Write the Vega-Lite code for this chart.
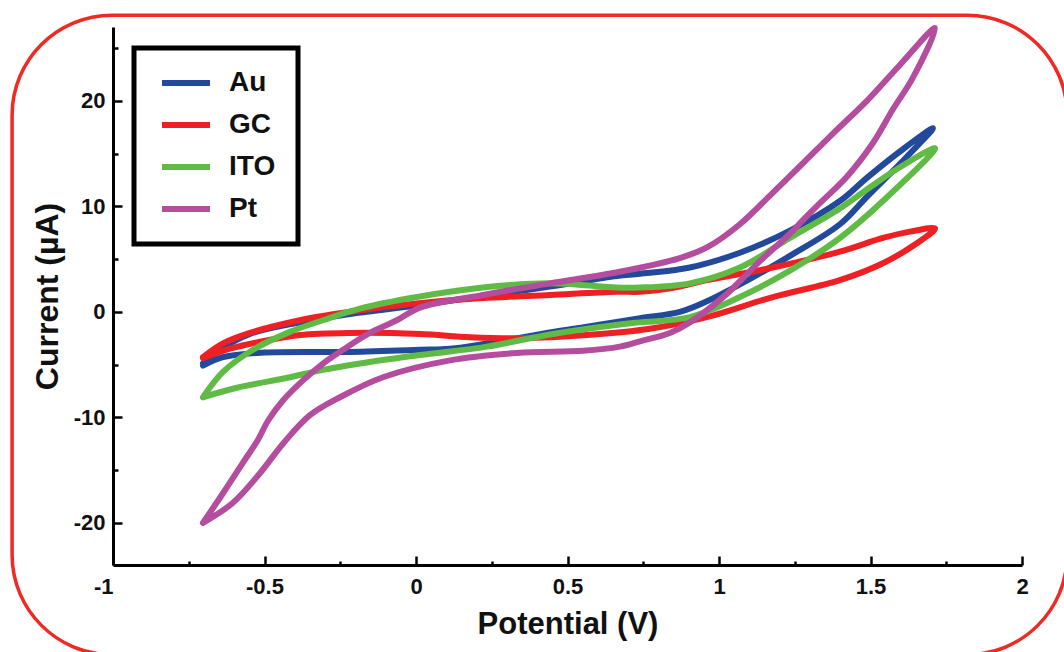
{
  "$schema": "https://vega.github.io/schema/vega-lite/v6.json",
  "width": 909,
  "height": 538,
  "autosize": {"type": "none"},
  "padding": {"left": 113, "top": 27, "right": 42, "bottom": 87},
  "background": "white",
  "config": {
    "view": {"stroke": null},
    "font": "Liberation Sans",
    "legend": {"strokeWidth": 5}
  },
  "layer": [
    {
      "data": {"values": [{}]},
      "mark": {"type": "rect", "filled": false, "stroke": "#ee2a24", "strokeWidth": 3.5, "cornerRadius": 100, "clip": false},
      "encoding": {
        "x": {"datum": -1.333, "type": "quantitative", "scale": {"domain": [-1, 2], "nice": false, "zero": false}},
        "x2": {"datum": 2.149},
        "y": {"datum": 28.12, "type": "quantitative", "scale": {"domain": [-24, 27], "nice": false, "zero": false}},
        "y2": {"datum": -32.5}
      }
    },
    {
      "data": {"values": [
        {"e":"Au","i":0,"v":-0.703,"c":-4.9},{"e":"Au","i":1,"v":-0.647,"c":-3.6},{"e":"Au","i":2,"v":-0.548,"c":-2.1},{"e":"Au","i":3,"v":-0.383,"c":-1.0},{"e":"Au","i":4,"v":-0.218,"c":-0.2},{"e":"Au","i":5,"v":0.003,"c":0.6},{"e":"Au","i":6,"v":0.221,"c":1.5},{"e":"Au","i":7,"v":0.442,"c":2.4},{"e":"Au","i":8,"v":0.663,"c":3.4},{"e":"Au","i":9,"v":0.739,"c":3.6},{"e":"Au","i":10,"v":0.904,"c":4.2},{"e":"Au","i":11,"v":1.069,"c":5.6},{"e":"Au","i":12,"v":1.234,"c":7.7},{"e":"Au","i":13,"v":1.399,"c":10.5},{"e":"Au","i":14,"v":1.488,"c":12.7},{"e":"Au","i":15,"v":1.597,"c":15.2},{"e":"Au","i":16,"v":1.706,"c":17.4},
        {"e":"Au","i":17,"v":1.62,"c":14.7},{"e":"Au","i":18,"v":1.488,"c":10.9},{"e":"Au","i":19,"v":1.399,"c":8.3},{"e":"Au","i":20,"v":1.234,"c":5.3},{"e":"Au","i":21,"v":1.069,"c":2.6},{"e":"Au","i":22,"v":0.96,"c":1.0},{"e":"Au","i":23,"v":0.871,"c":0.0},{"e":"Au","i":24,"v":0.739,"c":-0.6},{"e":"Au","i":25,"v":0.564,"c":-1.4},{"e":"Au","i":26,"v":0.452,"c":-1.9},{"e":"Au","i":27,"v":0.234,"c":-3.0},{"e":"Au","i":28,"v":0.112,"c":-3.5},{"e":"Au","i":29,"v":0.013,"c":-3.6},{"e":"Au","i":30,"v":-0.218,"c":-3.8},{"e":"Au","i":31,"v":-0.525,"c":-3.9},{"e":"Au","i":32,"v":-0.637,"c":-4.3},{"e":"Au","i":33,"v":-0.703,"c":-5.1},

        {"e":"GC","i":0,"v":-0.703,"c":-4.3},{"e":"GC","i":1,"v":-0.637,"c":-3.0},{"e":"GC","i":2,"v":-0.548,"c":-2.0},{"e":"GC","i":3,"v":-0.383,"c":-0.8},{"e":"GC","i":4,"v":-0.218,"c":0.0},{"e":"GC","i":5,"v":0.003,"c":0.8},{"e":"GC","i":6,"v":0.221,"c":1.3},{"e":"GC","i":7,"v":0.442,"c":1.6},{"e":"GC","i":8,"v":0.663,"c":1.9},{"e":"GC","i":9,"v":0.739,"c":1.9},{"e":"GC","i":10,"v":0.871,"c":2.4},{"e":"GC","i":11,"v":0.96,"c":3.0},{"e":"GC","i":12,"v":1.178,"c":4.2},{"e":"GC","i":13,"v":1.399,"c":5.7},{"e":"GC","i":14,"v":1.541,"c":7.0},{"e":"GC","i":15,"v":1.63,"c":7.6},{"e":"GC","i":16,"v":1.713,"c":7.9},
        {"e":"GC","i":17,"v":1.653,"c":6.5},{"e":"GC","i":18,"v":1.541,"c":4.6},{"e":"GC","i":19,"v":1.399,"c":3.0},{"e":"GC","i":20,"v":1.178,"c":1.4},{"e":"GC","i":21,"v":0.96,"c":-0.5},{"e":"GC","i":22,"v":0.772,"c":-1.6},{"e":"GC","i":23,"v":0.564,"c":-2.2},{"e":"GC","i":24,"v":0.343,"c":-2.5},{"e":"GC","i":25,"v":0.178,"c":-2.4},{"e":"GC","i":26,"v":0.013,"c":-2.1},{"e":"GC","i":27,"v":-0.218,"c":-2.0},{"e":"GC","i":28,"v":-0.383,"c":-2.2},{"e":"GC","i":29,"v":-0.525,"c":-2.9},{"e":"GC","i":30,"v":-0.614,"c":-3.5},{"e":"GC","i":31,"v":-0.703,"c":-4.4},

        {"e":"ITO","i":0,"v":-0.703,"c":-8.1},{"e":"ITO","i":1,"v":-0.637,"c":-5.7},{"e":"ITO","i":2,"v":-0.538,"c":-3.6},{"e":"ITO","i":3,"v":-0.416,"c":-1.9},{"e":"ITO","i":4,"v":-0.307,"c":-0.8},{"e":"ITO","i":5,"v":-0.185,"c":0.3},{"e":"ITO","i":6,"v":0.003,"c":1.4},{"e":"ITO","i":7,"v":0.221,"c":2.3},{"e":"ITO","i":8,"v":0.442,"c":2.7},{"e":"ITO","i":9,"v":0.663,"c":2.3},{"e":"ITO","i":10,"v":0.739,"c":2.3},{"e":"ITO","i":11,"v":0.904,"c":2.7},{"e":"ITO","i":12,"v":1.069,"c":4.2},{"e":"ITO","i":13,"v":1.234,"c":7.0},{"e":"ITO","i":14,"v":1.399,"c":9.8},{"e":"ITO","i":15,"v":1.488,"c":11.6},{"e":"ITO","i":16,"v":1.597,"c":13.7},{"e":"ITO","i":17,"v":1.713,"c":15.5},
        {"e":"ITO","i":18,"v":1.541,"c":10.5},{"e":"ITO","i":19,"v":1.399,"c":7.0},{"e":"ITO","i":20,"v":1.234,"c":3.9},{"e":"ITO","i":21,"v":1.069,"c":1.4},{"e":"ITO","i":22,"v":0.904,"c":-0.5},{"e":"ITO","i":23,"v":0.739,"c":-1.0},{"e":"ITO","i":24,"v":0.673,"c":-1.2},{"e":"ITO","i":25,"v":0.452,"c":-2.1},{"e":"ITO","i":26,"v":0.234,"c":-3.3},{"e":"ITO","i":27,"v":0.013,"c":-4.1},{"e":"ITO","i":28,"v":-0.185,"c":-4.9},{"e":"ITO","i":29,"v":-0.307,"c":-5.5},{"e":"ITO","i":30,"v":-0.416,"c":-6.2},{"e":"ITO","i":31,"v":-0.591,"c":-7.2},{"e":"ITO","i":32,"v":-0.703,"c":-8.1},

        {"e":"Pt","i":0,"v":-0.703,"c":-20.0},{"e":"Pt","i":1,"v":-0.637,"c":-17.2},{"e":"Pt","i":2,"v":-0.571,"c":-14.3},{"e":"Pt","i":3,"v":-0.521,"c":-12.1},{"e":"Pt","i":4,"v":-0.488,"c":-10.3},{"e":"Pt","i":5,"v":-0.439,"c":-8.4},{"e":"Pt","i":6,"v":-0.373,"c":-6.5},{"e":"Pt","i":7,"v":-0.307,"c":-4.9},{"e":"Pt","i":8,"v":-0.241,"c":-3.6},{"e":"Pt","i":9,"v":-0.152,"c":-2.0},{"e":"Pt","i":10,"v":-0.063,"c":-0.8},{"e":"Pt","i":11,"v":0.013,"c":0.4},{"e":"Pt","i":12,"v":0.221,"c":1.6},{"e":"Pt","i":13,"v":0.442,"c":2.7},{"e":"Pt","i":14,"v":0.673,"c":3.8},{"e":"Pt","i":15,"v":0.871,"c":5.1},{"e":"Pt","i":16,"v":0.96,"c":6.1},{"e":"Pt","i":17,"v":1.069,"c":8.3},{"e":"Pt","i":18,"v":1.178,"c":11.3},{"e":"Pt","i":19,"v":1.267,"c":13.8},{"e":"Pt","i":20,"v":1.376,"c":16.9},{"e":"Pt","i":21,"v":1.488,"c":20.0},{"e":"Pt","i":22,"v":1.597,"c":23.4},{"e":"Pt","i":23,"v":1.713,"c":26.9},
        {"e":"Pt","i":24,"v":1.64,"c":22.2},{"e":"Pt","i":25,"v":1.574,"c":19.2},{"e":"Pt","i":26,"v":1.508,"c":16.0},{"e":"Pt","i":27,"v":1.422,"c":12.8},{"e":"Pt","i":28,"v":1.333,"c":10.3},{"e":"Pt","i":29,"v":1.277,"c":8.7},{"e":"Pt","i":30,"v":1.234,"c":7.4},{"e":"Pt","i":31,"v":1.135,"c":4.8},{"e":"Pt","i":32,"v":1.069,"c":2.9},{"e":"Pt","i":33,"v":1.026,"c":1.7},{"e":"Pt","i":34,"v":0.904,"c":-1.0},{"e":"Pt","i":35,"v":0.838,"c":-2.0},{"e":"Pt","i":36,"v":0.739,"c":-2.8},{"e":"Pt","i":37,"v":0.673,"c":-3.3},{"e":"Pt","i":38,"v":0.551,"c":-3.7},{"e":"Pt","i":39,"v":0.333,"c":-3.9},{"e":"Pt","i":40,"v":0.112,"c":-4.6},{"e":"Pt","i":41,"v":-0.109,"c":-6.2},{"e":"Pt","i":42,"v":-0.251,"c":-8.1},{"e":"Pt","i":43,"v":-0.35,"c":-9.8},{"e":"Pt","i":44,"v":-0.439,"c":-12.5},{"e":"Pt","i":45,"v":-0.515,"c":-15.3},{"e":"Pt","i":46,"v":-0.604,"c":-18.1},{"e":"Pt","i":47,"v":-0.703,"c":-20.0}
      ]},
      "mark": {"type": "line", "strokeWidth": 6, "strokeJoin": "round", "strokeCap": "round", "interpolate": "catmull-rom"},
      "encoding": {
        "x": {
          "field": "v", "type": "quantitative",
          "scale": {"domain": [-1, 2], "nice": false, "zero": false},
          "axis": {
            "title": "Potential (V)",
            "values": [-1, -0.75, -0.5, -0.25, 0, 0.25, 0.5, 0.75, 1, 1.25, 1.5, 1.75, 2],
            "labelExpr": "round(datum.value * 4) % 2 == 0 ? '' + datum.value : ''",
            "labelFlush": false,
            "labelAlign": {"condition": {"test": "datum.value == -1", "value": "right"}, "value": "center"},
            "tickSize": {"condition": {"test": "round(datum.value * 4) % 2 == 0", "value": -9}, "value": -4},
            "grid": false,
            "domainColor": "#000", "domainWidth": 3,
            "tickColor": "#000", "tickWidth": 2.5,
            "labelFont": "Liberation Sans", "labelFontWeight": "bold", "labelFontSize": 22, "labelColor": "#111",
            "labelPadding": 20,
            "titleFont": "Liberation Sans", "titleFontWeight": "bold", "titleFontSize": 31, "titleColor": "#111",
            "titlePadding": 12
          }
        },
        "y": {
          "field": "c", "type": "quantitative",
          "scale": {"domain": [-24, 27], "nice": false, "zero": false},
          "axis": {
            "title": "Current (µA)",
            "values": [-20, -15, -10, -5, 0, 5, 10, 15, 20, 25],
            "labelExpr": "datum.value % 10 == 0 ? '' + datum.value : ''",
            "tickSize": {"condition": {"test": "datum.value % 10 == 0", "value": -9}, "value": -5},
            "grid": false,
            "domainColor": "#000", "domainWidth": 3,
            "tickColor": "#000", "tickWidth": 2.5,
            "labelFont": "Liberation Sans", "labelFontWeight": "bold", "labelFontSize": 22, "labelColor": "#111",
            "labelPadding": 17,
            "titleFont": "Liberation Sans", "titleFontWeight": "bold", "titleFontSize": 32, "titleColor": "#111",
            "titlePadding": 9
          }
        },
        "order": {"field": "i", "type": "quantitative"},
        "color": {
          "field": "e", "type": "nominal",
          "scale": {"domain": ["Au", "GC", "ITO", "Pt"], "range": ["#22499c", "#ee2024", "#5fba46", "#b44d9e"]},
          "legend": {
            "title": ".",
            "titleOrient": "right",
            "titleColor": "rgba(0,0,0,0)",
            "titleFontSize": 10,
            "titlePadding": 6,
            "orient": "none", "legendX": 21, "legendY": 21,
            "strokeColor": "#000",
            "padding": 14,
            "symbolType": "stroke", "symbolSize": 2304, "symbolStrokeWidth": 6,
            "clipHeight": 42, "rowPadding": 0,
            "symbolOffset": 11, "labelOffset": 16,
            "labelFont": "Liberation Sans", "labelFontWeight": "bold", "labelFontSize": 28, "labelColor": "#111"
          }
        }
      }
    }
  ]
}
